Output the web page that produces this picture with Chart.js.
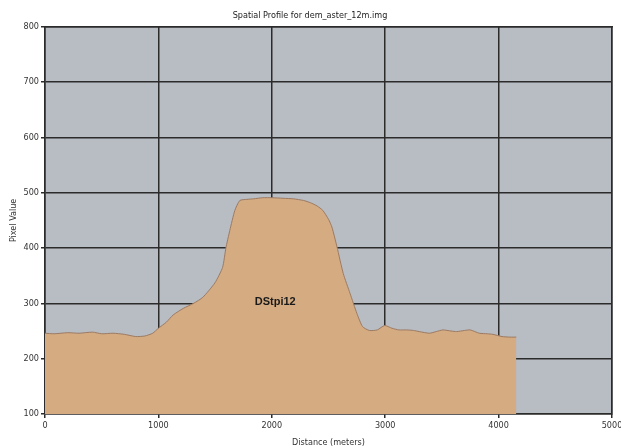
<!DOCTYPE html>
<html>
<head>
<meta charset="utf-8">
<script src="https://cdn.jsdelivr.net/npm/chart.js@4"></script>
<style>
  html,body{margin:0;padding:0;background:#fff}
  #wrap{width:621px;height:448px}
</style>
</head>
<body>
<div id="wrap"><canvas id="ch" width="621" height="448"></canvas></div>
<script>
// distance along the profile (m) and pixel value
const distM=[0,80,200,300,420,500,600,700,800,880,950,1000,1070,1130,1220,1310,1392,1498,1566,1595,1630,1674,1718,1780,1840,1920,2000,2100,2190,2280,2340,2400,2450,2500,2530,2575,2630,2690,2750,2800,2860,2930,2995,3060,3120,3190,3250,3300,3390,3450,3510,3580,3630,3700,3750,3830,3900,3950,4030,4100,4156];
const pixVal=[246,245,247,246,248,245,246,244,240,241,246,255,266,279,291,300,311,337,365,400,432,468,486,488,489,491,491,490,489,486,482,476,468,452,438,402,354,318,282,258,251,252,260,255,252,252,251,249,246,249,252,250,249,251,252,246,245,244,240,239,239];
const xTicks=[0,1000,2000,3000,4000,5000];
const yTicks=[100,200,300,400,500,600,700,800];
const seriesName='DStpi12';
const chartTitle='Spatial Profile for dem_aster_12m.img';

const tickFont={family:'"Liberation Sans Narrow","DejaVu Sans Condensed",sans-serif',size:9};

// gray plot background behind grid
const plotBg={id:'plotBg',beforeDraw(c){
  const a=c.chartArea,ctx=c.ctx;
  ctx.save();ctx.fillStyle='#b8bcc3';ctx.fillRect(a.left,a.top,a.right-a.left,a.bottom-a.top);ctx.restore();
}};
// series name written inside the filled area
const seriesLabel={id:'seriesLabel',afterDatasetsDraw(c){
  const ctx=c.ctx,xs=c.scales.x,ys=c.scales.y;
  ctx.save();
  ctx.font='bold 11px "Liberation Sans",Arial,sans-serif';
  ctx.fillStyle='#1a1a1a';ctx.textAlign='center';ctx.textBaseline='middle';
  ctx.fillText(seriesName,xs.getPixelForValue(2030),ys.getPixelForValue(302));
  ctx.restore();
}};

new Chart(document.getElementById('ch'),{
  type:'line',
  data:{datasets:[{
    label:seriesName,
    data:distM.map((d,i)=>({x:d,y:pixVal[i]})),
    borderColor:'#9c7a62',borderWidth:1,
    backgroundColor:'#d5ac82',
    fill:'start',pointRadius:0,tension:0.2
  }]},
  options:{
    responsive:false,animation:false,
    layout:{padding:{left:8,right:9,top:0,bottom:0}},
    plugins:{
      legend:{display:false},tooltip:{enabled:false},
      title:{display:true,text:chartTitle,color:'#222',
        font:{family:'"Liberation Sans Narrow","DejaVu Sans Condensed",sans-serif',size:9,weight:'normal'},
        padding:{top:10,bottom:6}}
    },
    scales:{
      x:{type:'linear',min:0,max:5000,
        afterBuildTicks(s){s.ticks=xTicks.map(v=>({value:v}));},
        afterFit(s){s.height=34;s.paddingRight=0;s.paddingLeft=0;},
        grid:{color:'#2b2b2b',lineWidth:1.5,tickLength:4,tickColor:'#2b2b2b'},
        border:{color:'#2b2b2b',width:1.5},
        ticks:{color:'#333',font:tickFont,padding:2,maxRotation:0,callback:v=>String(v)},
        title:{display:true,text:'Distance (meters)',color:'#333',font:tickFont,padding:{top:4,bottom:0}}
      },
      y:{min:100,max:800,
        afterBuildTicks(s){s.ticks=yTicks.map(v=>({value:v}));},
        afterFit(s){s.width=37;},
        grid:{color:'#2b2b2b',lineWidth:1.5,tickLength:4,tickColor:'#2b2b2b'},
        border:{color:'#2b2b2b',width:1.5},
        ticks:{color:'#333',font:tickFont,padding:2,callback:v=>String(v)},
        title:{display:true,text:'Pixel Value',color:'#333',font:tickFont,padding:0}
      },
      x2:{type:'linear',position:'top',min:0,max:5000,display:true,
        afterFit(s){s.height=0;},
        grid:{display:false},border:{color:'#2b2b2b',width:1.5},ticks:{display:false}
      },
      y2:{position:'right',min:100,max:800,display:true,
        afterFit(s){s.width=0;},
        grid:{display:false},border:{color:'#2b2b2b',width:1.5},ticks:{display:false}
      }
    }
  },
  plugins:[plotBg,seriesLabel]
});
</script>
</body>
</html>
